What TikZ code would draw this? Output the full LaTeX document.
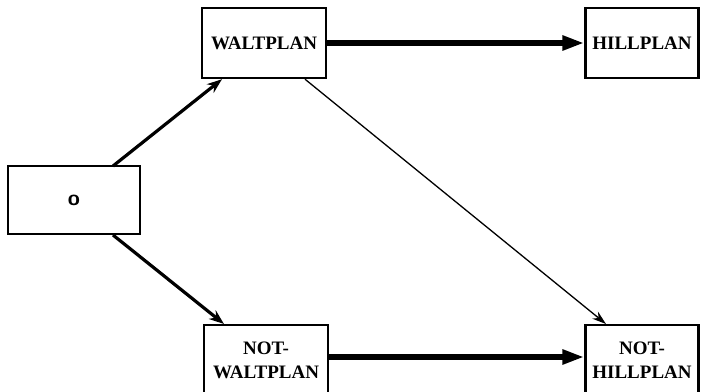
\documentclass[tikz,border=0pt]{standalone}
\usepackage{fontspec}
\setmainfont{Liberation Serif}
\usetikzlibrary{arrows.meta}
\begin{document}
\begin{tikzpicture}[x=1pt,y=-1pt,
  planbox/.style={draw=black,line width=2.4pt,fill=white,inner sep=0pt,
    align=center,font=\fontsize{19}{24}\selectfont\bfseries},
  heavy/.style={line width=6pt,-{Triangle[length=22pt,width=14pt]}},
  medium/.style={line width=3.2pt,-{Stealth[length=15pt,width=11pt]}},
  light/.style={line width=1.3pt,-{Stealth[length=14pt,width=9pt]}}]
\useasboundingbox (0,0) rectangle (704,391);
\node[planbox,minimum width=132pt,minimum height=68pt] (o) at (74,200)
  {\fontsize{22}{24}\selectfont\sffamily\bfseries o};
\node[planbox,minimum width=124pt,minimum height=70pt] (w) at (264,43) {WALTPLAN};
\node[planbox,minimum width=113pt,minimum height=70pt] (h) at (642,43) {HILLPLAN};
\node[planbox,minimum width=124pt,minimum height=70pt,anchor=north] (nw) at (266,324) {NOT-\\WALTPLAN};
\node[planbox,minimum width=113pt,minimum height=70pt,anchor=north] (nh) at (642,324) {NOT-\\HILLPLAN};
\coordinate (oa) at (113,166);
\coordinate (ob) at (113,235);
\draw[medium] (oa) -- (w.south west -| 222,0);
\draw[medium] (ob) -- (nw.north west -| 224,0);
\draw[heavy] (w.east) -- (h.west);
\draw[heavy] (nw.east |- 0,357) -- (nh.west |- 0,357);
\draw[light] (w.south -| 305,0) -- (nh.north -| 606,0);
\end{tikzpicture}
\end{document}
